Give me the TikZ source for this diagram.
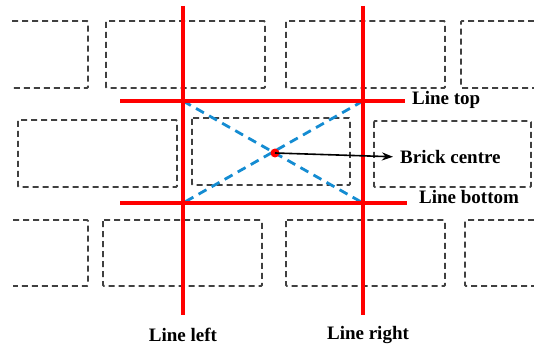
\documentclass[tikz,border=0pt]{standalone}
\usepackage{fontspec}
\setmainfont{Liberation Serif}
\usetikzlibrary{arrows.meta}
\definecolor{diagblue}{RGB}{20,140,210}
\begin{document}
\begin{tikzpicture}[x=1pt,y=-1pt,
  brick/.style={draw=black!75, line width=1.8pt, dash pattern=on 6pt off 4pt, rounded corners=1pt},
  redline/.style={draw=red, line width=3.8pt},
  diag/.style={draw=diagblue, line width=2.8pt, dash pattern=on 9pt off 6pt},
  lbl/.style={font=\bfseries\fontsize{19}{21}\selectfont, inner sep=0pt},
  pointer/.style={draw=black, line width=1.6pt, shorten >=7pt, -{Stealth[length=11pt,width=8pt]}}]
\useasboundingbox[fill=white] (0,0) rectangle (534,347);
% bricks top row
\draw[brick] (12,21) -- (88,21) -- (88,88) -- (12,88);
\draw[brick] (106,21) rectangle (265,88);
\draw[brick] (286,21) rectangle (445,88);
\draw[brick] (534,21) -- (461,21) -- (461,88) -- (534,88);
% middle row
\draw[brick] (18,120) rectangle (177,187);
\draw[brick] (192,118) rectangle (350,185);
\draw[brick] (374,121) rectangle (531,187);
% bottom row
\draw[brick] (13,220) -- (88,220) -- (88,286) -- (13,286);
\draw[brick] (103,220) rectangle (262,286);
\draw[brick] (286,220) rectangle (445,286);
\draw[brick] (534,220) -- (465,220) -- (465,286) -- (534,286);
% red lines
\coordinate (lt) at (183,6);
\coordinate (lb) at (183,315);
\coordinate (rt) at (363,6);
\coordinate (rb) at (363,315);
\coordinate (tl) at (120,101);
\coordinate (tr) at (405,101);
\coordinate (bl) at (120,203);
\coordinate (br) at (407,203);
\coordinate (ctl) at (183,101);
\coordinate (ctr) at (363,101);
\coordinate (cbl) at (183,203);
\coordinate (cbr) at (363,203);
\draw[diag] (ctl) -- (cbr);
\draw[diag] (ctr) -- (cbl);
\draw[redline] (lt) -- (lb);
\draw[redline] (rt) -- (rb);
\draw[redline] (tl) -- (tr);
\draw[redline] (bl) -- (br);
% centre
\node[circle, fill=red, inner sep=0pt, minimum size=9pt] (dot) at (275,153) {};
\node[lbl, anchor=west] (bc) at (400,157) {Brick centre};
\draw[pointer] (dot.center) -- (bc.west);
% labels
\node[lbl, anchor=west] (ltop) at (412,100) {Line top};
\node[lbl, anchor=west] (lbot) at (419,197) {Line bottom};
\node[lbl] (lleft) at (183,335) {Line left};
\node[lbl] (lright) at (368,335) {Line right};
\end{tikzpicture}
\end{document}
